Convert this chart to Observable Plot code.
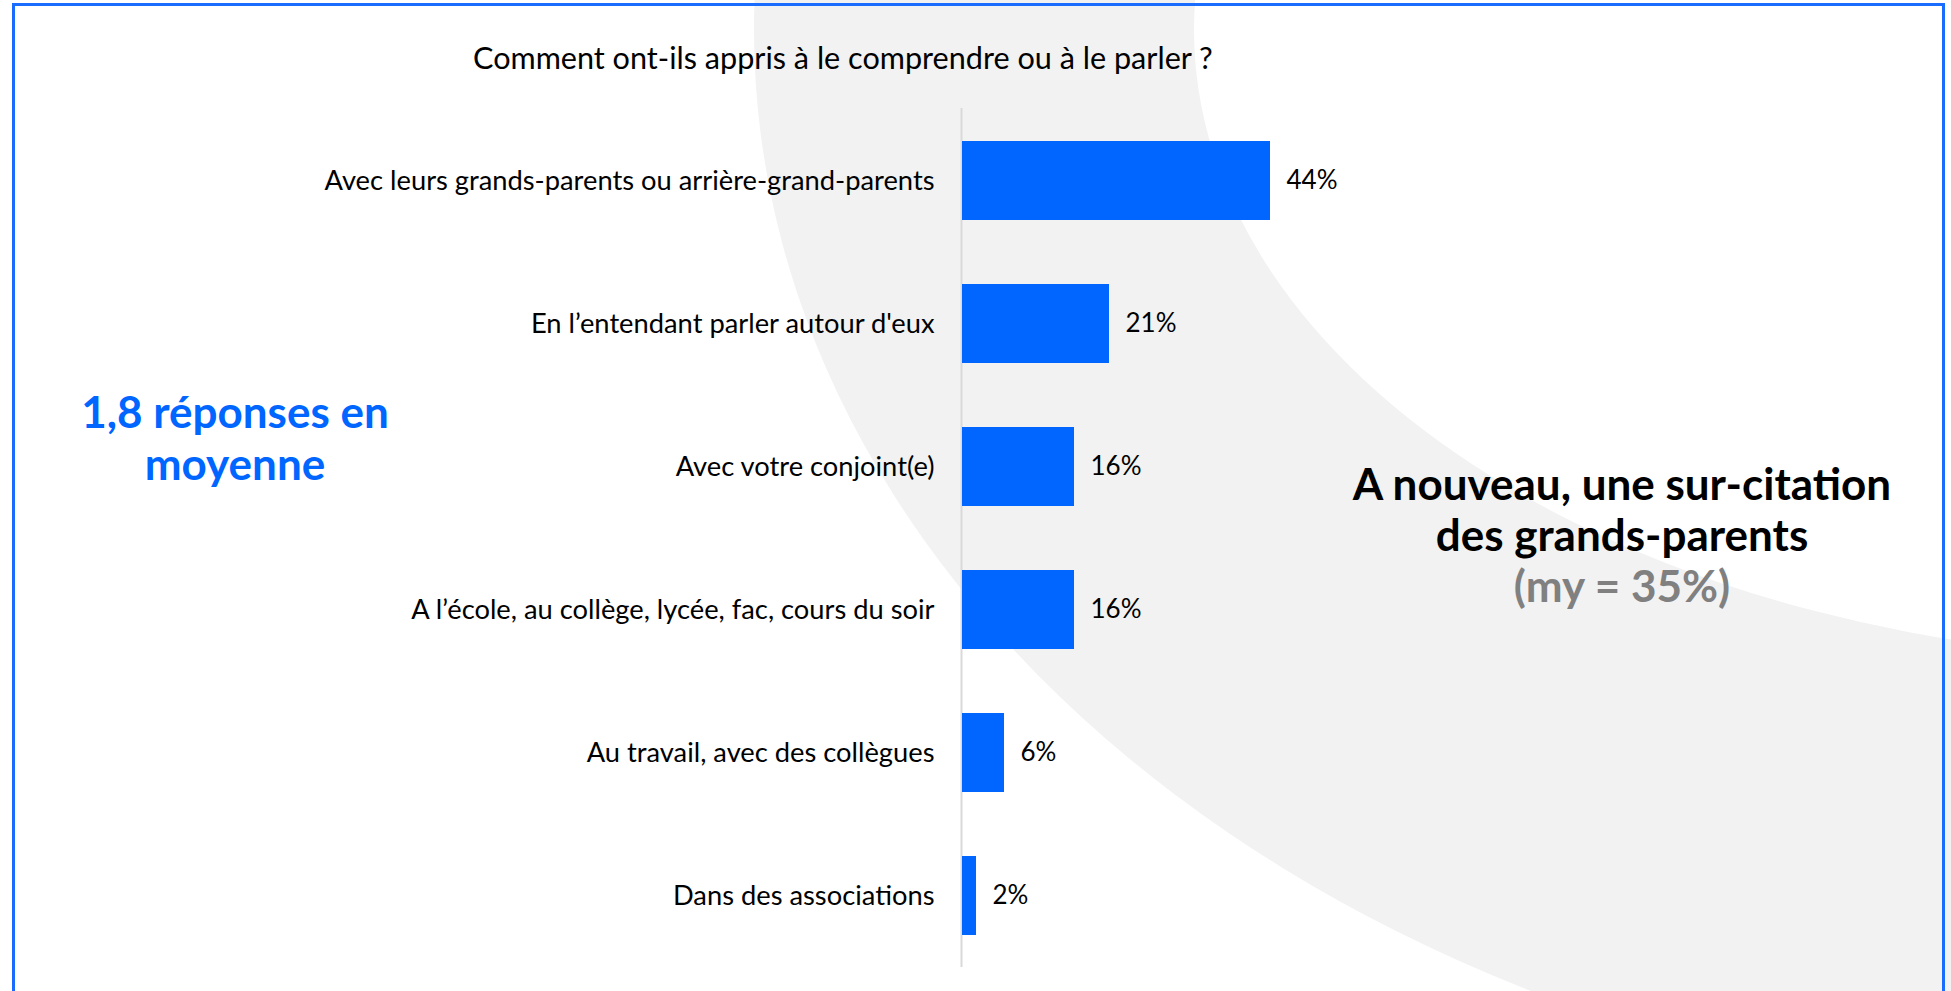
<!DOCTYPE html>
<html>
<head>
<meta charset="utf-8">
<script src="https://cdn.jsdelivr.net/npm/d3@7"></script>
<script src="https://cdn.jsdelivr.net/npm/@observablehq/plot@0.6"></script>
<style>
  html, body { margin: 0; padding: 0; background: #ffffff; }
  #page { position: relative; width: 1951px; height: 991px; overflow: hidden; font-family: Lato, "Open Sans", sans-serif; }
  #bg { position: absolute; left: 0; top: 0; }
  #chart { position: absolute; left: 0; top: 0; }
  .title { position: absolute; left: 473px; top: 40px; font-size: 30.6px; color: #000; white-space: nowrap; line-height: 36px; }
  .note-blue { position: absolute; left: 35px; width: 400px; top: 385px; text-align: center; color: #0066ff; font-weight: 700; font-size: 44px; line-height: 52px; white-space: nowrap; }
  .note-right { position: absolute; left: 1272px; width: 700px; top: 458px; text-align: center; color: #000; font-weight: 700; font-size: 44px; line-height: 51px; white-space: nowrap; }
  .note-right .grey { color: #808080; }
</style>
</head>
<body>
<div id="page">
  <svg id="bg" width="1951" height="991">
    <ellipse cx="2200" cy="30" rx="1446" ry="1084" fill="#f2f2f2"></ellipse>
    <ellipse cx="2200" cy="30" rx="1006" ry="629" fill="#ffffff"></ellipse>
    <rect x="12" y="3" width="1933" height="3" fill="#1a6cff"></rect>
    <rect x="12" y="3" width="3" height="988" fill="#1a6cff"></rect>
    <rect x="1942" y="3" width="3" height="988" fill="#1a6cff"></rect>
  </svg>
  <div id="chart"></div>
  <div class="title">Comment ont-ils appris à le comprendre ou à le parler ?</div>
  <div class="note-blue">1,8 réponses en<br>moyenne</div>
  <div class="note-right">A nouveau, une sur-citation<br>des grands-parents<br><span class="grey">(my = 35%)</span></div>
</div>
<script>
const categories = [
  "Avec leurs grands-parents ou arrière-grand-parents",
  "En l’entendant parler autour d'eux",
  "Avec votre conjoint(e)",
  "A l’école, au collège, lycée, fac, cours du soir",
  "Au travail, avec des collègues",
  "Dans des associations"
];
const values = [44, 21, 16, 16, 6, 2];

const data = categories.map((c, i) => ({category: c, value: values[i]}));

const chart = Plot.plot({
  width: 1951,
  height: 991,
  marginLeft: 962,
  marginRight: 289,
  marginTop: 108,
  marginBottom: 24,
  x: {domain: [0, 100], axis: null},
  y: {domain: categories, paddingInner: 0.45, paddingOuter: 0.225, label: null, axis: null},
  style: {background: "transparent", fontFamily: "Lato, 'Open Sans', sans-serif", overflow: "visible", color: "#000"},
  marks: [
    Plot.ruleX([0], {stroke: "#d9d9d9", strokeWidth: 2, dx: -1}),
    Plot.barX(data, {x: "value", y: "category", fill: "#0066ff"}),
    Plot.text(data, {x: "value", y: "category", text: d => d.value + "%", dx: 16, textAnchor: "start", fontSize: 26, fill: "#000"}),
    Plot.axisY({tickSize: 0, tickPadding: 28, fontSize: 27.3, fill: "#000", label: null})
  ]
});
document.getElementById("chart").appendChild(chart);
</script>
</body>
</html>
